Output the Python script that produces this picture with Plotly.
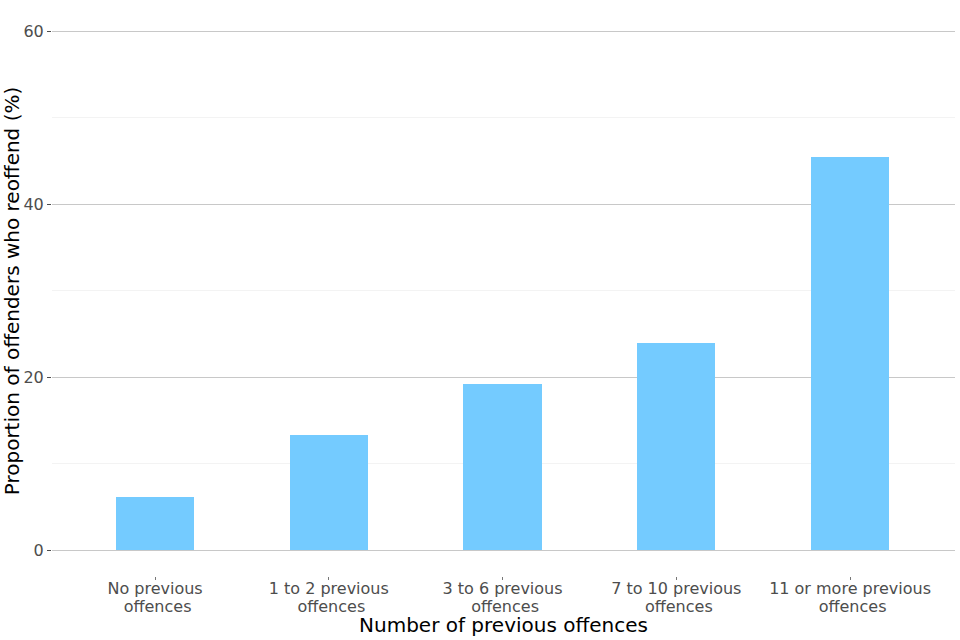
import plotly.graph_objects as go

cat_line1 = ["No previous", "1 to 2 previous", "3 to 6 previous", "7 to 10 previous", "11 or more previous"]
cat_line2 = ["\u00a0offences"] * 5
values = [6.2, 13.3, 19.2, 24.0, 45.4]
y_ticks = [0, 20, 40, 60]
positions = list(range(len(cat_line1)))

fig = go.Figure()
fig.add_trace(go.Bar(x=positions, y=values, width=0.45,
                     marker=dict(color="#74CBFF", line=dict(width=0))))
# invisible trace to activate the second x-axis (second label line)
fig.add_trace(go.Scatter(x=positions, y=values, xaxis="x2", mode="markers",
                         marker=dict(opacity=0), hoverinfo="skip"))

fig.update_layout(
    width=960, height=640,
    margin=dict(l=52, r=5, t=6, b=64, autoexpand=False),
    paper_bgcolor="white", plot_bgcolor="white",
    font=dict(family="DejaVu Sans", color="#4d4d4d"),
    showlegend=False,
    bargap=0,
    xaxis=dict(
        range=[-0.593, 4.604], tickmode="array", tickvals=positions, ticktext=cat_line1,
        ticks="outside", ticklen=3, tickcolor="#777777", tickwidth=1,
        ticklabelstandoff=-5,
        tickfont=dict(size=16, color="#4d4d4d"), automargin=False,
        showgrid=False, zeroline=False, showline=False,
        title=dict(text="Number of previous offences", font=dict(size=20, color="black"), standoff=20),
    ),
    xaxis2=dict(
        overlaying="x", side="bottom", anchor="y", matches="x",
        range=[-0.593, 4.604], tickmode="array", tickvals=positions, ticktext=cat_line2,
        ticks="", ticklabelstandoff=19,
        tickfont=dict(size=16, color="#4d4d4d"), automargin=False,
        showgrid=False, zeroline=False, showline=False,
    ),
    yaxis=dict(
        range=[-2.95, 62.9], tickmode="array", tickvals=y_ticks,
        ticks="outside", ticklen=4, tickcolor="#4d4d4d", tickwidth=1,
        tickfont=dict(size=16, color="#4d4d4d"), automargin=False,
        showgrid=True, gridcolor="#c8c8c8", gridwidth=1,
        zeroline=False, showline=False,
        minor=dict(tickvals=[10, 30, 50], showgrid=True, gridcolor="#f3f3f3", gridwidth=1, ticks=""),
        title=dict(text="Proportion of offenders who reoffend (%)", font=dict(size=20, color="black"), standoff=1),
    ),
)
fig.write_html("out.html", config={"displayModeBar": False},
               post_script="document.body.style.margin='0';document.body.style.overflow='hidden';")
